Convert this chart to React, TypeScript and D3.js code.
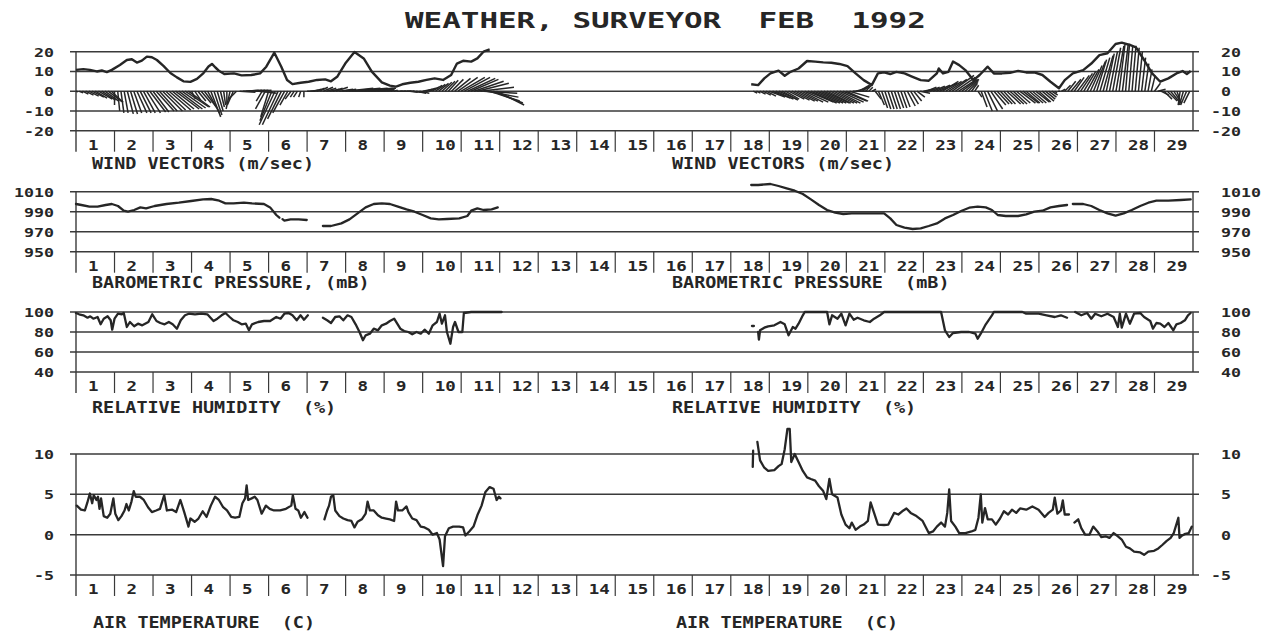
import React from "react";
import * as d3 from "d3";

type P = [number, number];

// ---------------- DATA ----------------
const dayLabels = d3.range(1, 30);
const windTicks = [20, 10, 0, -10, -20];
const pressTicks = [1010, 990, 970, 950];
const humTicks = [100, 80, 60, 40];
const tempTicks = [10, 5, 0, -5];

// wind speed line (day, m/s)
const speedA: P[] = [[0,10.8],[0.19,11.2],[0.36,10.8],[0.54,10],[0.67,10.5],[0.8,9.7],[0.93,10.8],[1.14,13.3],[1.32,15.8],[1.45,16.2],[1.58,14.5],[1.71,15.5],[1.84,17.5],[1.97,17.2],[2.1,15.8],[2.27,12.8],[2.45,9.2],[2.62,7],[2.79,5],[2.97,4.7],[3.14,6.2],[3.31,9.2],[3.44,12.5],[3.53,13.8],[3.62,12],[3.72,10.2],[3.85,8.7],[4.1,9],[4.3,8],[4.55,8.2],[4.78,9],[4.94,12.4],[5.15,19.5],[5.33,12.4],[5.48,5.7],[5.62,3.6],[5.83,4.3],[6.04,4.8],[6.26,5.7],[6.47,6],[6.62,5],[6.78,7.3],[6.99,14],[7.23,19.8],[7.47,16.6],[7.68,9.9],[7.94,4.5],[8.15,2.8],[8.31,2.3],[8.47,3.5],[8.68,4.3],[8.89,4.8],[9.1,5.7],[9.31,6.5],[9.53,5.7],[9.74,8.2],[9.89,14],[10.05,15.4],[10.26,15],[10.42,16.6],[10.58,20],[10.74,21.2]];
const speedB: P[] = [[17.53,3.5],[17.71,3.1],[17.87,6.5],[18.03,9],[18.24,10.4],[18.4,7.8],[18.55,9.8],[18.76,11.5],[18.98,15.3],[19.19,15],[19.4,14.6],[19.61,14.4],[19.82,13.8],[20.03,12.7],[20.24,9],[20.45,5.6],[20.66,3.1],[20.82,9],[20.98,9.5],[21.14,8.7],[21.3,9.8],[21.51,9],[21.72,7.3],[21.93,5.6],[22.14,5.3],[22.35,9],[22.4,11.5],[22.51,9],[22.65,9.8],[22.77,15],[22.93,13.2],[23.09,10.7],[23.3,5.6],[23.46,8.2],[23.67,12.4],[23.83,9],[24.04,9],[24.25,9.3],[24.46,10.3],[24.67,9.5],[24.88,9.5],[25.09,8.2],[25.3,4.8],[25.52,1.5],[25.67,5.6],[25.88,9],[26.15,10.7],[26.36,14],[26.57,18.3],[26.78,19.2],[26.99,23.9],[27.15,24.6],[27.36,23.4],[27.52,22.2],[27.73,15.8],[27.94,9],[28.15,4.8],[28.36,6.5],[28.57,9],[28.73,10.2],[28.84,8.7],[28.94,10.2]];

// wind vectors, sampled every 2 hours (east u, north v in m/s)
const windStep = 1 / 12;
const windAStart = 0;
const windAU = [
  1,2,3,4,5,6,6,7,7,7,7,6,
  0,1,1.5,2,3,3.5,4,5,5.5,6,7,8,
  8,9,9,10,10,11,11,12,12,12,12,11,
  2,3,4,5,6,6,5,4,3,2,1,0,
  -2,-3,-4,8,8,8,8,8,8,9,-3,-5,
  -4,-6,-8,-8,-7,-6,-4,-3,-2,-2,-1,0,
  4,4,4,4,4,5,5,5,5,6,7,7,
  14,16,18,19,19,17,15,12,10,8,6,5,
  3,3,2,2,3,3,4,4,4,4,5,5,
  5,5,5,5,5,5,5,5,5,6,8,10,
  12,13,14,14,15,16,17,17,16,15,15,14];
const windAV = [
  -0.3,-0.8,-1.5,-2,-2.5,-3,-3.5,-4,-4.5,-5,-5.3,-5.6,
  -7,-10,-11,-11,-11.5,-11.5,-11,-11,-11,-11,-11,-10.5,
  -10.5,-10,-10,-10,-9.5,-9.5,-9,-9,-9,-8.5,-8,-8,
  -4,-4.5,-5,-6,-8,-11,-13,-12,-10,-8,-7,-6.5,
  -9,-7,-4,-0.5,0.5,0.5,0.5,0.5,0.5,-1,-5,-9,
  -13,-15,-17,-17,-14,-11,-7,-4,-3,-3,-3,-3,
  0,0.5,1,1.5,2,2,1.5,1,1.5,2,1,1,
  1.5,1.5,1.5,1.5,1.5,1.5,1,1,1,1,0.5,0.5,
  0.5,0.5,0.5,0.5,0,0,0,0,-0.5,-0.5,-1,-1,
  1,1.5,2,3,3.5,4,4.5,5,5.5,6,6.5,7,
  7,7,6.5,6,5,4,2,-1,-3,-5,-6,-7];
const windBStart = 17 + 7 / 12;
const windBU = [
  2,2,3,4,5,
  8,9,9,9,8,7,8,9,10,10,11,12,
  13,13,13,13,13,13,12,12,12,12,12,12,
  11,10,8,7,5,4,3,2,2,3,3,3,
  3,3,3,3,3,3,3,4,4,4,4,5,
  5,5,5,6,7,9,8,8,9,11,10,9,
  8,7,5,3,2,2,3,4,5,6,6,6,
  6,6,7,7,7,7,8,8,7,7,7,7,
  6,6,5,4,3,1,1,2,3,4,5,5,
  6,6,6,6,6,6,5,5,5,4,4,4,
  4,3,3,2,2,2,2,2,2,2,2,2,
  3,4,4,4,5,5,4,2,-1,-2,-3,-3];
const windBV = [
  -1,-1,-1.5,-2,-2.5,
  -3,-3.5,-4,-4,-4.5,-4,-4,-4.5,-5,-5,-5.5,-5.5,
  -5.5,-6,-6,-6,-6,-6,-6,-6,-6,-6,-5.5,-5,
  -5,-3,0,2,3,3,3,2,1,-4,-7,-8.5,
  -9,-9,-9,-9,-8.5,-8.5,-8,-7.5,-6.5,-5,-3,-1,
  1,2,2,2.5,3,4,5,5,6,8,7,6,
  6,6,5,4,3,-3,-8,-10,-10,-9,-7,-6.5,
  -6.5,-6.5,-6.5,-6.5,-6.5,-6,-6,-6,-6,-6,-6,-5.5,
  -5.5,-5,-4,-3,-2,-1,0,1,3,5,6,7,
  8,9,10,11,13,15,16,17,18,19,20,22,
  23,24,24,24,23,23,22,20,17,14,11,8,
  4,1,-2,-4,-5,-6,-6,-6,-7,-7,-7,-6];

// barometric pressure (day, mB)
const pressA1: P[] = [[0,997.7],[0.14,996.7],[0.35,995],[0.56,995],[0.77,996.7],[0.93,997.7],[1.09,995.7],[1.24,991],[1.35,990],[1.51,991.7],[1.67,994.3],[1.82,993.3],[2.04,995.7],[2.35,997.7],[2.67,999],[2.99,1000.7],[3.3,1002.3],[3.51,1002.7],[3.72,1001],[3.88,998.3],[4.09,998.3],[4.36,999],[4.57,998.3],[4.88,997.7],[5.04,994.3],[5.2,986.7],[5.28,984]];
const pressA2: P[] = [[5.36,982.5],[5.41,981],[5.57,982.3],[5.78,982.3],[5.99,981.7]];
const pressA3: P[] = [[6.41,975.7],[6.62,975.7],[6.89,978.3],[7.1,982.3],[7.31,988.3],[7.52,994.3],[7.73,997.7],[7.94,998.3],[8.15,997.7],[8.36,995],[8.58,992.3],[8.79,990],[9,986.7],[9.21,983.3],[9.42,982.3],[9.63,982.7],[9.95,983.3],[10.16,985.7],[10.26,991],[10.42,993.3],[10.58,991.7],[10.79,992.3],[10.95,994.3]];
const pressB1: P[] = [[17.53,1016.7],[17.71,1016.7],[18.03,1017.7],[18.24,1015.7],[18.45,1013.3],[18.66,1011],[18.87,1007.7],[19.08,1002.3],[19.29,996.7],[19.5,991.7],[19.71,989],[19.92,987.7],[20.14,988.3],[20.45,988.3],[20.77,988.3],[20.98,988.3],[21.14,983.3],[21.3,976.7],[21.51,974],[21.72,972.7],[21.93,973.3],[22.14,975.7],[22.35,978.3],[22.56,983.3],[22.77,986.7],[22.98,990.7],[23.19,994],[23.41,995],[23.62,994.3],[23.78,991.7],[23.93,986.7],[24.14,985.7],[24.46,985.7],[24.67,987.3],[24.88,990],[25.09,991],[25.3,994.3],[25.52,995.7],[25.73,996.7]];
const pressB2: P[] = [[25.88,997.7],[26.15,997.7],[26.36,995.7],[26.57,991.7],[26.78,988.3],[26.99,986],[27.2,988.3],[27.41,991.7],[27.63,995.7],[27.84,999],[28.05,1001],[28.36,1001],[28.68,1001.7],[28.94,1002.3]];

// relative humidity (day, %)
const humA1: P[] = [[0,99],[0.08,97.7],[0.19,96.7],[0.3,94.3],[0.37,95.7],[0.45,93.3],[0.56,95],[0.64,87.7],[0.72,93.3],[0.82,95.7],[0.9,91.7],[0.94,82.3],[1,93.3],[1.09,98.3],[1.19,97.7],[1.24,99],[1.32,85],[1.4,90],[1.51,85.7],[1.61,88.3],[1.72,86.7],[1.88,90],[1.98,97.7],[2.09,91],[2.19,89],[2.3,87.7],[2.41,90],[2.51,87.7],[2.62,83.3],[2.72,91.7],[2.83,96.7],[2.93,98.3],[3.09,97.7],[3.25,98.3],[3.41,97.7],[3.57,91],[3.67,93.3],[3.78,96.7],[3.88,99],[3.99,95],[4.09,91.7],[4.2,90],[4.3,87.7],[4.41,88.3],[4.49,81.7],[4.57,87.7],[4.73,90],[4.88,91],[5.04,91],[5.2,95],[5.31,93.3],[5.41,98.3],[5.52,99],[5.62,96.7],[5.73,91.7],[5.83,96.7],[5.92,92.3],[6.02,96.7]];
const humA2: P[] = [[6.41,94.3],[6.52,91.7],[6.62,89],[6.73,95],[6.84,95.7],[6.94,91.7],[7.05,96.7],[7.15,95],[7.26,87.7],[7.36,80],[7.45,71.7],[7.52,76.7],[7.63,78.3],[7.73,83.3],[7.84,81.7],[7.94,86.7],[8.05,88.3],[8.15,91],[8.26,93.3],[8.34,88.3],[8.42,83.3],[8.52,81],[8.63,80],[8.73,77.7],[8.84,80],[8.95,78.3],[9.05,82.3],[9.16,78.3],[9.26,86.7],[9.37,90],[9.44,98.3],[9.5,88.3],[9.58,96.7],[9.63,80],[9.72,68.3],[9.79,85],[9.84,90],[9.93,80],[10.03,80],[10.07,99],[10.26,100],[11.05,100]];
const humB0: P[] = [[17.55,86],[17.6,86]];
const humB1: P[] = [[17.71,80],[17.73,72.3],[17.76,81.7],[17.87,84.3],[17.97,85.7],[18.13,86.7],[18.29,90],[18.4,87.7],[18.5,76.7],[18.61,85],[18.68,83.3],[18.76,88.3],[18.87,96.7],[18.92,100],[19.5,100],[19.56,87.7],[19.63,96.7],[19.77,93.3],[19.87,98.3],[19.98,86.7],[20.08,98.3],[20.19,92.3],[20.29,94.3],[20.45,91.7],[20.61,90],[20.72,93.3],[20.87,96.7],[20.98,100],[22.46,100],[22.56,81.7],[22.67,75],[22.77,79],[22.98,80],[23.19,80],[23.35,78.3],[23.41,73.3],[23.49,78.3],[23.62,87.7],[23.78,96.7],[23.83,100],[24.57,100],[24.67,98.3],[24.99,98.3],[25.2,96.7],[25.41,95],[25.57,96.7],[25.73,94.3]];
const humB2: P[] = [[25.94,100],[26.1,96.7],[26.25,99],[26.36,93.3],[26.46,98.3],[26.62,95.7],[26.78,98.3],[26.94,95],[27.05,85],[27.1,98.3],[27.15,84.3],[27.26,98.3],[27.36,88.3],[27.47,98.3],[27.63,99],[27.73,95],[27.89,91],[27.96,83.3],[28.05,89],[28.15,88.3],[28.26,85],[28.36,89],[28.49,81.7],[28.57,87.7],[28.68,89],[28.79,91.7],[28.87,96.7],[28.94,99]];

// air temperature (day, C)
const tempA1: P[] = [[0.02,3.6],[0.13,3.1],[0.23,3],[0.29,3.9],[0.36,5.1],[0.42,3.9],[0.46,4.9],[0.53,4.3],[0.57,4.7],[0.61,3.2],[0.65,4.5],[0.72,2.3],[0.81,2.1],[0.89,2.6],[0.97,4.5],[1.02,2.6],[1.1,1.8],[1.18,2.3],[1.26,3],[1.31,3.8],[1.37,3],[1.44,4.1],[1.5,5.4],[1.55,4.7],[1.66,4.7],[1.76,4.3],[1.87,3.4],[1.97,2.8],[2.08,3],[2.18,3.2],[2.29,4.9],[2.36,3],[2.5,3.1],[2.6,2.8],[2.71,4.3],[2.81,2.8],[2.92,1],[2.97,2],[3.08,1.6],[3.18,2],[3.29,2.9],[3.39,2.2],[3.5,3.6],[3.61,4.7],[3.71,4.3],[3.82,3.4],[3.92,3],[4.03,2.2],[4.13,2.1],[4.24,2.2],[4.32,3.9],[4.39,4.5],[4.43,6.1],[4.47,4.3],[4.56,4.5],[4.64,4.7],[4.71,4.3],[4.82,2.6],[4.93,3.6],[5.03,3.2],[5.14,3],[5.3,3],[5.45,3.2],[5.59,3.6],[5.63,4.9],[5.7,3.2],[5.77,3],[5.84,2.1],[5.93,2.8],[6.01,2.1]];
const tempA2: P[] = [[6.45,1.9],[6.52,3],[6.57,3.6],[6.62,4.7],[6.68,4.9],[6.73,3],[6.84,2.3],[6.94,2],[7.05,1.8],[7.15,1.7],[7.23,0.9],[7.31,1.6],[7.42,1.9],[7.52,2.6],[7.57,4.1],[7.63,3],[7.73,3],[7.84,2.4],[7.94,2.1],[8.05,2],[8.15,1.9],[8.26,1.7],[8.31,4.1],[8.36,3],[8.47,3],[8.58,3.5],[8.63,2.8],[8.73,2],[8.84,1.8],[8.95,1],[9.05,0.9],[9.16,0.6],[9.26,0],[9.37,0.2],[9.44,-0.6],[9.53,-3.9],[9.58,-0.2],[9.68,0.8],[9.79,1],[9.95,1],[10.05,0.9],[10.11,-0.1],[10.21,0.4],[10.32,1],[10.42,2.4],[10.53,3.6],[10.63,5.3],[10.74,5.9],[10.84,5.7],[10.92,4.3],[10.98,4.7],[11.02,4.5]];
const tempB0: P[] = [[17.57,8.4],[17.58,10.4]];
const tempB1: P[] = [[17.69,11.5],[17.76,9.2],[17.87,8.3],[17.97,7.9],[18.13,8],[18.24,8.5],[18.32,8.75],[18.4,10.6],[18.47,13.1],[18.53,13.1],[18.57,9],[18.66,10],[18.74,9.2],[18.87,7.9],[18.98,7.1],[19.08,6.9],[19.19,6.7],[19.29,6],[19.4,5.4],[19.48,4.4],[19.56,6.9],[19.63,5],[19.77,4.6],[19.87,2.5],[19.98,1.25],[20.08,0.8],[20.14,1.5],[20.24,0.6],[20.35,1],[20.45,1.25],[20.56,1.7],[20.63,4],[20.72,2.7],[20.82,1.25],[20.98,1.2],[21.09,1.25],[21.24,2.7],[21.35,2.5],[21.45,2.9],[21.56,3.25],[21.67,2.7],[21.82,2.3],[21.98,1.7],[22.14,0.2],[22.25,0.4],[22.35,1],[22.46,1.5],[22.56,1],[22.62,2.7],[22.67,5.6],[22.72,1.7],[22.83,1],[22.93,0.2],[23.09,0.2],[23.25,0.4],[23.35,0.6],[23.43,2.1],[23.49,5],[23.53,1.5],[23.6,3.3],[23.67,1.9],[23.78,1.9],[23.88,1.25],[23.99,2],[24.09,2.9],[24.2,2.5],[24.3,3.1],[24.41,2.7],[24.51,3.25],[24.67,3.1],[24.83,3.5],[24.99,3.1],[25.15,2.2],[25.25,2.7],[25.36,3.1],[25.41,4.6],[25.48,2.6],[25.57,3],[25.62,4.25],[25.67,2.5],[25.78,2.5]];
const tempB2: P[] = [[25.92,1.5],[26.02,1.9],[26.1,0.8],[26.2,0],[26.31,0],[26.41,1],[26.52,0.4],[26.62,-0.3],[26.73,-0.2],[26.83,-0.4],[26.94,0.2],[27.05,-0.2],[27.15,-0.6],[27.26,-1.5],[27.36,-1.7],[27.47,-2.1],[27.63,-2.2],[27.73,-2.5],[27.84,-2.1],[27.99,-2],[28.1,-1.7],[28.21,-1.25],[28.31,-0.8],[28.42,-0.4],[28.5,0.2],[28.62,2.1],[28.65,-0.4],[28.72,-0.1],[28.8,0.1],[28.89,0.2],[28.97,1]];

const title = "WEATHER, SURVEYOR  FEB  1992";

// ---------------- CHART ----------------
const INK = "#262626";
const MONO = "'DejaVu Sans Mono', 'Liberation Mono', monospace";

type PanelDef = {
  ticks: number[];
  domain: [number, number];
  top: number;
  bottom: number;
  capY: number;
  capL: [string, number];
  capR: [string, number];
  series: P[][];
};

function Txt(props: { x: number; y: number; s: string; size: number; cw: number; anchor?: string; weight?: string }) {
  const { x, y, s, size, cw, anchor = "start", weight = "bold" } = props;
  return (
    <text
      x={x}
      y={y}
      fontFamily={MONO}
      fontSize={size}
      fontWeight={weight}
      fill={INK}
      textAnchor={anchor}
      textLength={s.length * cw}
      lengthAdjust="spacingAndGlyphs"
      style={{ whiteSpace: "pre" }}
    >
      {s}
    </text>
  );
}

export default function App() {
  const W = 1276, H = 632;
  const x = d3.scaleLinear().domain([0, 29]).range([76, 1193]);
  const gx0 = 70, gx1 = 1199;

  const panels: PanelDef[] = [
    { ticks: windTicks, domain: [-20, 20], top: 51.7, bottom: 130.7, capY: 169,
      capL: ["WIND VECTORS (m/sec)", 92], capR: ["WIND VECTORS (m/sec)", 672], series: [] },
    { ticks: pressTicks, domain: [950, 1010], top: 191.7, bottom: 251.7, capY: 288,
      capL: ["BAROMETRIC PRESSURE, (mB)", 92], capR: ["BAROMETRIC PRESSURE  (mB)", 672],
      series: [pressA1, pressA2, pressA3, pressB1, pressB2] },
    { ticks: humTicks, domain: [40, 100], top: 312, bottom: 372, capY: 413,
      capL: ["RELATIVE HUMIDITY  (%)", 92], capR: ["RELATIVE HUMIDITY  (%)", 672],
      series: [humA1, humA2, humB0, humB1, humB2] },
    { ticks: tempTicks, domain: [-5, 10], top: 454, bottom: 575, capY: 628,
      capL: ["AIR TEMPERATURE  (C)", 93], capR: ["AIR TEMPERATURE  (C)", 676],
      series: [tempA1, tempA2, tempB0, tempB1, tempB2] },
  ];

  const renderWind = (y: d3.ScaleLinear<number, number>) => {
    const uPx = y(0) - y(1);
    const sticks = (start: number, us: number[], vs: number[], key: string) =>
      us.map((u, i) => {
        const t = start + i * windStep;
        const x0 = x(t);
        return (
          <line key={key + i} x1={x0} y1={y(0)} x2={x0 + u * uPx} y2={y(vs[i])} stroke={INK} strokeWidth={1.5} />
        );
      });
    const line = d3.line<P>().x((d) => x(d[0])).y((d) => y(d[1]));
    return (
      <g>
        {sticks(windAStart, windAU, windAV, "a")}
        {sticks(windBStart, windBU, windBV, "b")}
        <path d={line(speedA) || ""} fill="none" stroke={INK} strokeWidth={2.4} strokeLinejoin="round" />
        <path d={line(speedB) || ""} fill="none" stroke={INK} strokeWidth={2.4} strokeLinejoin="round" />
      </g>
    );
  };

  const renderPanel = (p: PanelDef, pi: number) => {
    const y = d3.scaleLinear().domain(p.domain).range([p.bottom, p.top]);
    const line = d3.line<P>().x((d) => x(d[0])).y((d) => y(d[1]));
    const tickLen = 21;
    return (
      <g key={pi}>
        {p.ticks.map((t) => (
          <line key={"g" + t} x1={gx0} x2={gx1} y1={y(t)} y2={y(t)} stroke="#3a3a3a" strokeWidth={1.5} />
        ))}
        <line x1={x(0)} x2={x(0)} y1={p.top} y2={p.bottom + tickLen} stroke="#3a3a3a" strokeWidth={1.4} />
        <line x1={x(29)} x2={x(29)} y1={p.top} y2={p.bottom} stroke="#3a3a3a" strokeWidth={1.4} />
        {d3.range(1, 29).map((d) => (
          <line key={"t" + d} x1={x(d)} x2={x(d)} y1={p.bottom} y2={p.bottom + tickLen} stroke="#3a3a3a" strokeWidth={1.2} />
        ))}
        {dayLabels.map((d) => (
          <Txt key={"d" + d} x={x(d - 1) + 12} y={p.bottom + 19} s={String(d)} size={14} cw={10.5} />
        ))}
        {p.ticks.map((t) => (
          <Txt key={"l" + t} x={54} y={y(t) + 5} s={String(t)} size={13} cw={10} anchor="end" />
        ))}
        {p.ticks.map((t) => (
          <Txt key={"r" + t} x={t < 0 ? 1211 : 1221} y={y(t) + 5} s={String(t)} size={13} cw={10} />
        ))}
        <Txt x={p.capL[1]} y={p.capY} s={p.capL[0]} size={15} cw={11.1} />
        <Txt x={p.capR[1]} y={p.capY} s={p.capR[0]} size={15} cw={11.1} />
        {pi === 0 && renderWind(y)}
        {p.series.map((s, i) => (
          <path key={"s" + i} d={line(s) || ""} fill="none" stroke={INK} strokeWidth={2.3} strokeLinejoin="round" strokeLinecap="round" />
        ))}
      </g>
    );
  };

  return (
    <svg width={W} height={H} viewBox={`0 0 ${W} ${H}`} style={{ position: "absolute", left: 0, top: 0, background: "#fff" }}>
      <rect x={0} y={0} width={W} height={H} fill="#ffffff" />
      <Txt x={405} y={28} s={title} size={22} cw={18.6} />
      {panels.map(renderPanel)}
    </svg>
  );
}
